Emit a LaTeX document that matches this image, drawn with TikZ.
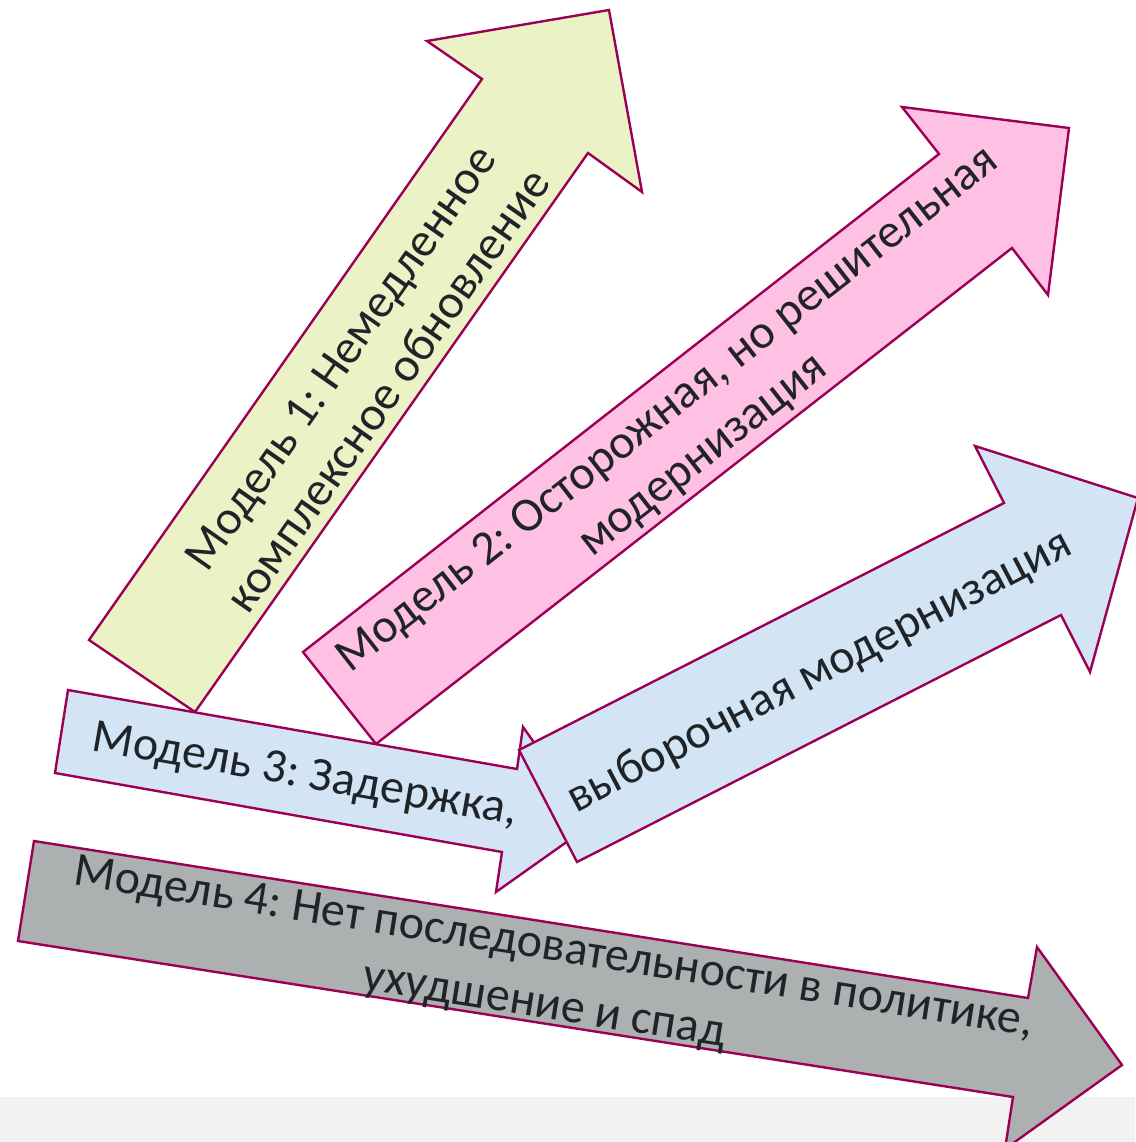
\documentclass[tikz,border=0pt]{standalone}
\usepackage{fontspec}
\setmainfont{Carlito}
\frenchspacing
\definecolor{edgeplum}{RGB}{155,0,85}
\definecolor{limefill}{RGB}{235,243,198}
\definecolor{rosefill}{RGB}{255,193,227}
\definecolor{skyfill}{RGB}{211,229,244}
\definecolor{slatefill}{RGB}{173,176,177}
\definecolor{bandgray}{RGB}{242,242,242}
\definecolor{inktext}{RGB}{32,36,40}

\begin{document}
\begin{tikzpicture}[x=1pt, y=-1pt,
  bigarrow/.style={draw=edgeplum, line width=2.4pt, line join=miter},
  modeltext/.style={text=inktext, font=\fontsize{48}{58}\selectfont, align=center, inner sep=0pt}]
\useasboundingbox (0,0) rectangle (1135,1142);
\fill[bandgray] (0,1097) rectangle (1135,1142);

% arrows
\filldraw[bigarrow, fill=limefill] (89,640) -- (482,79) -- (427,41) -- (609,10) -- (642,192) -- (588,153) -- (195,712) -- cycle;
\filldraw[bigarrow, fill=rosefill] (303,652) -- (939,154) -- (902,107) -- (1069,128) -- (1048,295) -- (1012,248) -- (376,744) -- cycle;
\filldraw[bigarrow, fill=skyfill] (68,690) -- (517,769) -- (523,727) -- (592,824) -- (496,892) -- (502,852) -- (55,773) -- cycle;
\filldraw[bigarrow, fill=skyfill] (519,750) -- (1004,503) -- (975,446) -- (1138,498) -- (1090,672) -- (1061,615) -- (577,862) -- cycle;
\filldraw[bigarrow, fill=slatefill] (34,841) -- (1028,998) -- (1037,947) -- (1122,1065) -- (1005,1149) -- (1013,1097) -- (18,941) -- cycle;

% labels
\node[modeltext, rotate=55] (m1) at (364,374) {Модель 1: Немедленное\\комплексное обновление};
\node[modeltext, rotate=38] (m2) at (686,433) {Модель 2: Осторожная, но решительная\\модернизация};
\node[modeltext, rotate=-10] (m3a) at (305,776) {Модель 3: Задержка,};
\node[modeltext, rotate=27.6] (m3b) at (820,672) {выборочная модернизация};
\node[modeltext, rotate=-9] (m4) at (549,978) {Модель 4: Нет последовательности в политике,\\ухудшение и спад};
\end{tikzpicture}
\end{document}
